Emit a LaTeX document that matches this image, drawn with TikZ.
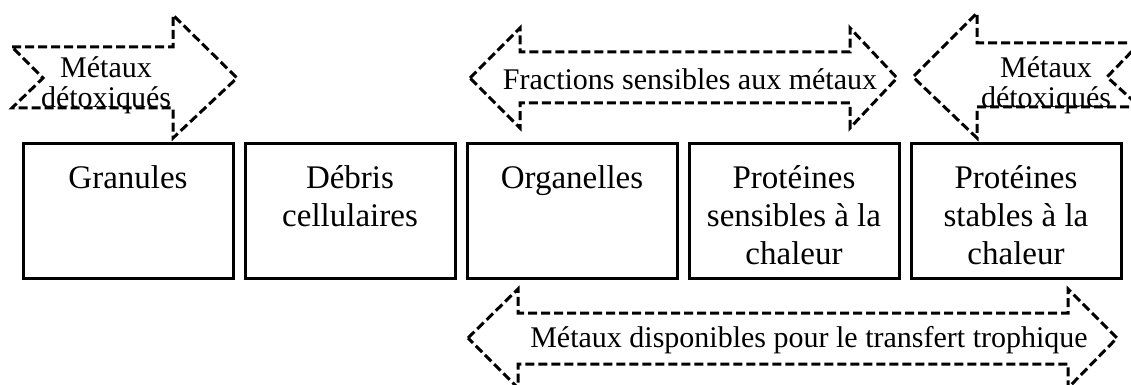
\documentclass[tikz,border=0pt]{standalone}
\usepackage{fontspec}
\setmainfont{Liberation Serif}
\usetikzlibrary{positioning}

\begin{document}
\begin{tikzpicture}[
    x=1pt, y=-1pt,
    node distance=12pt,
    box/.style={rectangle, draw, line width=3pt, outer sep=0pt, minimum width=210pt, minimum height=135pt, inner sep=0pt},
    boxtext/.style={anchor=north, align=center, inner sep=0pt, font=\fontsize{33}{38}\selectfont},
    flow/.style={draw, line width=3pt, dash pattern=on 9pt off 4pt, line join=miter},
    flowtext/.style={align=center, inner sep=0pt, font=\fontsize{30}{30}\selectfont}
]
    \useasboundingbox (0,0) rectangle (1131,385);
    \clip (0,0) rectangle (1131,385);

    % fractions
    \node[box] (granules) at (128,210.5) {};
    \node[box, right=of granules] (debris) {};
    \node[box, right=of debris] (organelles) {};
    \node[box, right=of organelles] (hsp) {};
    \node[box, right=of hsp] (hsp2) {};

    \node[boxtext] (granulestext) at ([yshift=-22pt]granules.north) {Granules};
    \node[boxtext] (debristext) at ([yshift=-22pt]debris.north) {Débris\\cellulaires};
    \node[boxtext] (organellestext) at ([yshift=-22pt]organelles.north) {Organelles};
    \node[boxtext] (hsptext) at ([yshift=-22pt]hsp.north) {Protéines\\sensibles à la\\chaleur};
    \node[boxtext] (hsp2text) at ([yshift=-22pt]hsp2.north) {Protéines\\stables à la\\chaleur};

    % dashed arrows
    \draw[flow] (12,47) -- (173,47) -- (173,15) -- (237,78) -- (173,138) -- (173,108) -- (12,108) -- (43,78) -- cycle;
    \node[flowtext] (detoxleft) at (106,85) {Métaux\\détoxiqués};

    \draw[flow] (1140,43) -- (977,43) -- (977,13) -- (913,77) -- (977,138) -- (977,107) -- (1140,107) -- (1107,77) -- cycle;
    \node[flowtext] (detoxright) at (1046,85) {Métaux\\détoxiqués};

    \draw[flow] (470,78) -- (520,28) -- (520,52) -- (850,52) -- (850,28) -- (897,78) -- (850,128) -- (850,103) -- (520,103) -- (520,128) -- cycle;
    \node[flowtext] (sensitive) at (690,79) {Fractions sensibles aux métaux};

    \draw[flow] (468,338) -- (518,289) -- (518,313) -- (1068,313) -- (1068,289) -- (1117,338) -- (1068,388) -- (1068,364) -- (518,364) -- (518,388) -- cycle;
    \node[flowtext] (trophic) at (809,340) {Métaux disponibles pour le transfert trophique};
\end{tikzpicture}
\end{document}
